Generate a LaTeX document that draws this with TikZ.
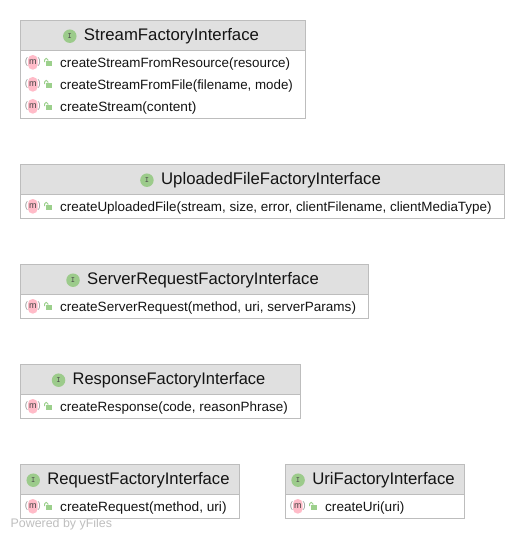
\documentclass[tikz,border=0pt]{standalone}
\usepackage{fontspec}
\setmainfont{Liberation Sans}
\definecolor{hdr}{HTML}{E0E0E0}
\definecolor{edge}{HTML}{BDBDBD}
\definecolor{igreen}{HTML}{9CCB8B}
\definecolor{mpink}{HTML}{FFBBC8}
\definecolor{lockg}{HTML}{9CD08C}
\definecolor{txt}{HTML}{141414}
\tikzset{
  x=1pt,y=-1pt,
  boxframe/.style={draw=edge,line width=0.9pt,fill=white},
  headfill/.style={draw=edge,line width=0.9pt,fill=hdr},
  titletext/.style={font=\fontsize{16.75}{18}\selectfont,text=txt,inner sep=0pt},
  methtext/.style={font=\fontsize{13.43}{15}\selectfont,text=txt,inner sep=0pt,anchor=base west},
  ifacedot/.style={circle,fill=igreen,minimum size=13.5pt,inner sep=0pt,font=\bfseries\fontsize{8}{8}\ttfamily,text=black!70},
  mpill/.style={fill=mpink,rounded corners=4.6pt},
  paren/.style={font=\fontsize{9.5}{9.5}\selectfont,text=black!40,inner sep=0pt},
  mletter/.style={font=\fontsize{9}{9}\selectfont,text=black!75,inner sep=0pt},
  footer/.style={font=\fontsize{12.4}{12}\selectfont,text=black!25,inner sep=0pt,anchor=base west},
}
% #1 name, #2 left, #3 top, #4 right, #5 bottom, #6 title, #7 title x-scale
\newcommand{\ifacebox}[7]{
  \draw[boxframe] (#2,#3) rectangle (#4,#5);
  \draw[headfill] (#2,#3) rectangle (#4,#3+30);
  \node[titletext,xscale=#7] (#1) at ({(#2+#4)/2+9},#3+16.4) {#6};
  \node[ifacedot,anchor=center] (#1i) at ([xshift=-14pt,yshift=0.2pt]#1.west) {I};
}
% #1 name, #2 left, #3 row centre y, #4 text, #5 text x-scale
\newcommand{\methrow}[5]{
  \fill[mpill] (#2+8,#3-7) rectangle (#2+17.6,#3+7.6);
  \node[paren] (#1a) at (#2+6.5,#3+0.3) {(};
  \node[paren] (#1b) at (#2+19.3,#3+0.3) {)};
  \node[mletter] (#1m) at (#2+12.8,#3+0.3) {m};
  \fill[lockg] (#2+26,#3-1) rectangle (#2+32.3,#3+3.7);
  \draw[lockg,line width=0.9pt,rounded corners=1.6pt] (#2+24.6,#3+0.2) -- (#2+24.6,#3-3.6) -- (#2+28,#3-3.6) -- (#2+28,#3-1);
  \node[methtext,xscale=#5] (#1t) at (#2+40,#3+5.3) {#4};
}
\begin{document}
\begin{tikzpicture}
\useasboundingbox[fill=white] (0,0) rectangle (525,539);
\ifacebox{sf}{20}{20}{305}{118}{StreamFactoryInterface}{1}
\methrow{sfa}{20}{62}{createStreamFromResource(resource)}{0.997}
\methrow{sfb}{20}{84}{createStreamFromFile(filename, mode)}{0.993}
\methrow{sfc}{20}{106}{createStream(content)}{1.02}
\ifacebox{uf}{20}{164}{504}{218}{UploadedFileFactoryInterface}{1}
\methrow{ufa}{20}{206}{createUploadedFile(stream, size, error, clientFilename, clientMediaType)}{1}
\ifacebox{sr}{20}{264}{368}{318}{ServerRequestFactoryInterface}{0.995}
\methrow{sra}{20}{306}{createServerRequest(method, uri, serverParams)}{1.006}
\ifacebox{rs}{20}{364}{300}{418}{ResponseFactoryInterface}{0.98}
\methrow{rsa}{20}{406}{createResponse(code, reasonPhrase)}{1.003}
\ifacebox{rq}{20}{464}{239}{518}{RequestFactoryInterface}{0.993}
\methrow{rqa}{20}{506}{createRequest(method, uri)}{1.018}
\ifacebox{ur}{285}{464}{464}{518}{UriFactoryInterface}{1}
\methrow{ura}{285}{506}{createUri(uri)}{1.01}
\node[footer] (pw) at (10.5,527) {Powered by yFiles};
\end{tikzpicture}
\end{document}
